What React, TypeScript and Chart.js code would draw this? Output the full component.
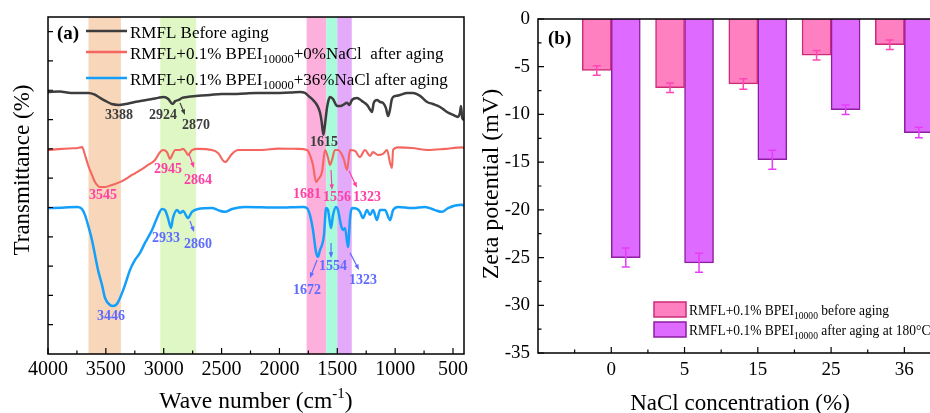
import React, { useEffect, useRef } from 'react';
import { Chart, registerables } from 'chart.js';

Chart.register(...registerables);

const FONT = '"Liberation Serif", "Times New Roman", Times, serif';

// ---------------- Panel (a): FTIR spectra ----------------
const wavenumberTicks = [4000, 3500, 3000, 2500, 2000, 1500, 1000, 500];
const transmittanceTicks = [10, 20, 30, 40, 50, 60, 70, 80, 90, 100, 110];

const spectrumBefore: [number, number][] = [
  [4000, 89.4], [3900, 89.6], [3800, 89.1], [3700, 89.1], [3650, 89.1], [3600, 88.6], [3550, 87.4],
  [3500, 86.3], [3450, 85.3], [3388, 85.0], [3330, 85.3], [3250, 86.0], [3200, 86.3], [3150, 86.7],
  [3100, 87.0], [3050, 87.4], [3000, 87.7], [2960, 87.0], [2924, 85.3], [2900, 86.3], [2870, 86.7],
  [2840, 87.4], [2800, 87.7], [2700, 88.1], [2600, 88.4], [2500, 88.7], [2400, 88.7], [2300, 88.9],
  [2200, 89.1], [2100, 89.1], [2000, 89.1], [1900, 89.2], [1822, 89.4], [1780, 89.1], [1750, 88.1],
  [1710, 86.7], [1670, 84.6], [1649, 82.3], [1635, 79.2], [1620, 74.8], [1608, 77.8], [1598, 81.2],
  [1589, 84.0], [1575, 86.7], [1563, 87.7], [1537, 87.0], [1515, 85.3], [1502, 84.6], [1476, 84.6],
  [1450, 85.0], [1416, 85.7], [1395, 85.0], [1373, 86.7], [1330, 87.4], [1286, 86.3], [1243, 85.0],
  [1215, 83.3], [1200, 82.6], [1185, 85.7], [1157, 86.7], [1130, 86.0], [1105, 85.7], [1080, 84.0],
  [1061, 81.2], [1045, 83.3], [1030, 86.7], [1018, 87.7], [990, 88.1], [958, 88.4], [897, 89.1],
  [845, 89.1], [785, 88.1], [724, 86.0], [673, 85.3], [612, 84.3], [552, 82.6], [500, 81.6],
  [457, 80.9], [440, 82.3], [431, 84.6], [420, 80.5], [405, 79.9],
];

const spectrumSalt0: [number, number][] = [
  [4000, 69.6], [3879, 70.0], [3780, 70.2], [3741, 70.3], [3706, 70.6], [3680, 67.9], [3654, 64.5],
  [3620, 61.1], [3594, 58.7], [3551, 57.0], [3507, 57.0], [3447, 57.7], [3360, 59.0], [3274, 61.1],
  [3188, 63.1], [3136, 64.5], [3075, 66.2], [3032, 68.9], [3006, 69.6], [2972, 68.9], [2945, 66.6],
  [2920, 68.5], [2902, 69.6], [2859, 69.6], [2833, 70.0], [2800, 68.5], [2790, 67.9], [2756, 69.6],
  [2704, 70.0], [2583, 69.6], [2531, 68.6], [2470, 65.5], [2410, 68.3], [2358, 69.6], [2151, 69.6],
  [2012, 70.1], [1840, 70.0], [1762, 69.6], [1736, 67.9], [1710, 64.5], [1684, 58.7], [1667, 59.5],
  [1632, 62.1], [1606, 69.6], [1580, 66.9], [1563, 64.5], [1546, 66.2], [1520, 69.6], [1494, 69.6],
  [1459, 67.9], [1442, 66.2], [1416, 62.8], [1390, 69.6], [1347, 69.3], [1304, 67.2], [1261, 69.6],
  [1217, 67.6], [1191, 68.9], [1148, 67.9], [1105, 68.3], [1070, 69.6], [1044, 65.2], [1027, 63.5],
  [1018, 69.6], [975, 70.5], [854, 70.3], [716, 69.6], [569, 70.0], [422, 70.5], [405, 70.3],
];

const spectrumSalt36: [number, number][] = [
  [4000, 49.8], [3879, 49.9], [3741, 50.2], [3706, 49.5], [3680, 47.4], [3654, 44.0], [3620, 38.9],
  [3594, 33.8], [3568, 28.7], [3533, 23.5], [3507, 19.1], [3464, 16.7], [3438, 16.4], [3404, 17.1],
  [3378, 19.1], [3335, 23.5], [3291, 28.7], [3248, 32.1], [3205, 34.5], [3162, 37.9], [3101, 42.3],
  [3058, 46.4], [3015, 49.5], [2989, 49.1], [2963, 46.4], [2937, 43.0], [2920, 46.4], [2885, 49.1],
  [2859, 48.1], [2833, 48.8], [2790, 46.4], [2756, 48.5], [2704, 49.5], [2583, 49.8], [2531, 49.1],
  [2470, 48.5], [2410, 49.5], [2297, 50.2], [2012, 50.0], [1796, 50.2], [1762, 49.8], [1736, 47.4],
  [1710, 42.3], [1684, 34.8], [1667, 33.1], [1649, 35.5], [1632, 37.2], [1615, 40.6], [1597, 49.8],
  [1580, 49.1], [1554, 43.0], [1537, 47.4], [1511, 50.2], [1494, 49.1], [1468, 44.0], [1451, 42.3],
  [1433, 43.0], [1407, 36.5], [1390, 46.4], [1373, 49.8], [1330, 49.5], [1304, 48.5], [1278, 46.4],
  [1243, 49.1], [1217, 47.4], [1191, 49.1], [1157, 45.7], [1131, 49.1], [1088, 49.1], [1044, 45.7],
  [1018, 49.1], [975, 50.2], [854, 49.8], [742, 50.2], [656, 49.1], [595, 48.5], [543, 49.8],
  [422, 50.9], [405, 50.5],
];

const spectrumColors = ['#3D3D3D', '#F4665F', '#14A0FA'];
const peakLabelColors = ['#3D3D3D', '#FF3FA4', '#5E6BFF'];

const bandRanges: [number, number][] = [[3650, 3370], [3030, 2720], [1765, 1595], [1595, 1500], [1500, 1375]];
const bandColors = ['#F8D6BA', '#DEF7C4', '#FDB0DC', '#AAFADC', '#E4AAFA'];

const peakLabels = [
  { text: '3388', w: 3386, t: 81.9, series: 0 },
  { text: '2924', w: 3006, t: 81.9, series: 0 },
  { text: '2870', w: 2721, t: 78.5, series: 0 },
  { text: '1615', w: 1615, t: 72.7, series: 0 },
  { text: '3545', w: 3525, t: 54.3, series: 1 },
  { text: '2945', w: 2963, t: 63.5, series: 1 },
  { text: '2864', w: 2704, t: 59.7, series: 1 },
  { text: '1681', w: 1762, t: 54.9, series: 1 },
  { text: '1556', w: 1502, t: 53.9, series: 1 },
  { text: '1323', w: 1243, t: 53.9, series: 1 },
  { text: '3446', w: 3456, t: 13.3, series: 2 },
  { text: '2933', w: 2980, t: 39.9, series: 2 },
  { text: '2860', w: 2704, t: 37.9, series: 2 },
  { text: '1672', w: 1762, t: 22.2, series: 2 },
  { text: '1554', w: 1537, t: 30.4, series: 2 },
  { text: '1323', w: 1278, t: 25.3, series: 2 },
];

const peakArrows = [
  { from: [2859, 85.7], to: [2816, 81.6], series: 0 },
  { from: [2781, 68.3], to: [2738, 63.5], series: 1 },
  { from: [1554, 62.8], to: [1546, 56.0], series: 1 },
  { from: [1399, 62.5], to: [1330, 56.7], series: 1 },
  { from: [2773, 45.4], to: [2738, 41.6], series: 2 },
  { from: [1675, 32.1], to: [1736, 25.9], series: 2 },
  { from: [1554, 37.9], to: [1554, 32.8], series: 2 },
  { from: [1390, 34.5], to: [1312, 28.7], series: 2 },
];

type Part = { t: string; s?: 'sub' | 'sup' };

const ftirLegend: Part[][] = [
  [{ t: 'RMFL Before aging' }],
  [{ t: 'RMFL+0.1% BPEI' }, { t: '10000', s: 'sub' }, { t: '+0%NaCl  after aging' }],
  [{ t: 'RMFL+0.1% BPEI' }, { t: '10000', s: 'sub' }, { t: '+36%NaCl after aging' }],
];

// ---------------- Panel (b): zeta potential ----------------
const naclCategories = ['0', '5', '15', '25', '36'];
const zetaBefore = [-5.4, -7.2, -6.8, -3.8, -2.7];
const zetaBeforeErr = [0.5, 0.5, 0.55, 0.5, 0.5];
const zetaAfter = [-25.0, -25.55, -14.75, -9.5, -11.9];
const zetaAfterErr = [1.0, 1.0, 1.0, 0.5, 0.55];
const zetaTicks = [0, -5, -10, -15, -20, -25, -30, -35];

const zetaLegend: Part[][] = [
  [{ t: 'RMFL+0.1% BPEI' }, { t: '10000', s: 'sub' }, { t: ' before aging' }],
  [{ t: 'RMFL+0.1% BPEI' }, { t: '10000', s: 'sub' }, { t: ' after aging at 180°C' }],
];
const barFills = ['#FF80C0', '#DE6AFF'];
const barBorders = ['#CC2B78', '#8C1EA0'];
const errColors = ['#FF46B4', '#E63CFA'];

// ---------------- helpers ----------------
function drawRich(
  ctx: CanvasRenderingContext2D,
  parts: Part[],
  x: number,
  y: number,
  size: number,
  opts: { align?: 'left' | 'center'; weight?: string; color?: string; subSize?: number } = {}
) {
  const weight = opts.weight ?? 'normal';
  const subSize = opts.subSize ?? size * 0.68;
  const fontFor = (p: Part) => `${weight} ${p.s ? subSize : size}px ${FONT}`;
  let total = 0;
  const widths = parts.map((p) => {
    ctx.font = fontFor(p);
    const w = ctx.measureText(p.t).width;
    total += w;
    return w;
  });
  let cx = opts.align === 'center' ? x - total / 2 : x;
  const base = y + size * 0.33;
  ctx.fillStyle = opts.color ?? '#000';
  ctx.textAlign = 'left';
  ctx.textBaseline = 'alphabetic';
  parts.forEach((p, i) => {
    ctx.font = fontFor(p);
    const dy = p.s === 'sub' ? size * 0.28 : p.s === 'sup' ? -size * 0.4 : 0;
    ctx.fillText(p.t, cx, base + dy);
    cx += widths[i];
  });
}

function drawArrow(ctx: CanvasRenderingContext2D, x1: number, y1: number, x2: number, y2: number, color: string) {
  const ang = Math.atan2(y2 - y1, x2 - x1);
  const head = 6;
  ctx.strokeStyle = color;
  ctx.fillStyle = color;
  ctx.lineWidth = 1.2;
  ctx.beginPath();
  ctx.moveTo(x1, y1);
  ctx.lineTo(x2 - Math.cos(ang) * head * 0.8, y2 - Math.sin(ang) * head * 0.8);
  ctx.stroke();
  ctx.beginPath();
  ctx.moveTo(x2, y2);
  ctx.lineTo(x2 - head * Math.cos(ang - 0.38), y2 - head * Math.sin(ang - 0.38));
  ctx.lineTo(x2 - head * Math.cos(ang + 0.38), y2 - head * Math.sin(ang + 0.38));
  ctx.closePath();
  ctx.fill();
}

const ftirDecor = {
  id: 'ftirDecor',
  beforeDatasetsDraw(chart: any) {
    const { ctx, chartArea: a, scales } = chart;
    const x = scales.x;
    ctx.save();
    bandRanges.forEach(([w1, w2], i) => {
      const p1 = x.getPixelForValue(w1);
      const p2 = x.getPixelForValue(w2);
      ctx.fillStyle = bandColors[i];
      ctx.fillRect(Math.min(p1, p2), a.top, Math.abs(p2 - p1), a.bottom - a.top);
    });
    ctx.restore();
  },
  afterDatasetsDraw(chart: any) {
    const { ctx, chartArea: a, scales } = chart;
    const x = scales.x;
    const y = scales.y;
    ctx.save();
    // frame
    ctx.strokeStyle = '#000';
    ctx.lineWidth = 1.5;
    ctx.strokeRect(a.left, a.top, a.right - a.left, a.bottom - a.top);
    // x ticks (inward)
    ctx.lineWidth = 1.2;
    ctx.beginPath();
    wavenumberTicks.forEach((v) => {
      const px = x.getPixelForValue(v);
      ctx.moveTo(px, a.bottom);
      ctx.lineTo(px, a.bottom - 6);
      const m = v - 250;
      if (m >= x.min) {
        const pm = x.getPixelForValue(m);
        ctx.moveTo(pm, a.bottom);
        ctx.lineTo(pm, a.bottom - 3.5);
      }
    });
    transmittanceTicks.forEach((v) => {
      const py = y.getPixelForValue(v);
      ctx.moveTo(a.left, py);
      ctx.lineTo(a.left + 5, py);
    });
    ctx.stroke();

    // legend
    const rowsY = [32, 53, 79];
    ftirLegend.forEach((parts, i) => {
      ctx.strokeStyle = spectrumColors[i];
      ctx.lineWidth = 2.5;
      ctx.beginPath();
      ctx.moveTo(86, rowsY[i] - 1);
      ctx.lineTo(127, rowsY[i] - 1);
      ctx.stroke();
      drawRich(ctx, parts, 130, rowsY[i], 17, { subSize: 12.5 });
    });
    drawRich(ctx, [{ t: '(a)' }], 57, 33, 19, { weight: 'bold' });

    // peak labels
    peakLabels.forEach((l) => {
      drawRich(ctx, [{ t: l.text }], x.getPixelForValue(l.w), y.getPixelForValue(l.t), 14, {
        align: 'center',
        weight: 'bold',
        color: peakLabelColors[l.series],
      });
    });
    peakArrows.forEach((ar) => {
      drawArrow(
        ctx,
        x.getPixelForValue(ar.from[0]),
        y.getPixelForValue(ar.from[1]),
        x.getPixelForValue(ar.to[0]),
        y.getPixelForValue(ar.to[1]),
        peakLabelColors[ar.series]
      );
    });

    // axis titles
    drawRich(ctx, [{ t: 'Wave number (cm' }, { t: '-1', s: 'sup' }, { t: ')' }], (a.left + a.right) / 2, 400, 23.5, {
      align: 'center',
      subSize: 15,
    });
    ctx.save();
    ctx.translate(21, 170);
    ctx.rotate(-Math.PI / 2);
    drawRich(ctx, [{ t: 'Transmittance (%)' }], 0, 0, 23, { align: 'center' });
    ctx.restore();
    ctx.restore();
  },
};

const zetaDecor = {
  id: 'zetaDecor',
  afterDatasetsDraw(chart: any) {
    const { ctx, chartArea: a, scales } = chart;
    const x = scales.x;
    const y = scales.y;
    ctx.save();
    // error bars
    const series = [
      [zetaBefore, zetaBeforeErr],
      [zetaAfter, zetaAfterErr],
    ];
    series.forEach(([vals, errs], d) => {
      const meta = chart.getDatasetMeta(d);
      ctx.strokeStyle = errColors[d];
      ctx.lineWidth = 1.5;
      meta.data.forEach((el: any, i: number) => {
        const cx = el.x;
        const yT = y.getPixelForValue(vals[i] + errs[i]);
        const yB = y.getPixelForValue(vals[i] - errs[i]);
        ctx.beginPath();
        ctx.moveTo(cx, yT);
        ctx.lineTo(cx, yB);
        ctx.moveTo(cx - 4, yT);
        ctx.lineTo(cx + 4, yT);
        ctx.moveTo(cx - 4, yB);
        ctx.lineTo(cx + 4, yB);
        ctx.stroke();
      });
    });
    // frame (left, top, bottom)
    ctx.strokeStyle = '#000';
    ctx.lineWidth = 1.5;
    ctx.beginPath();
    ctx.moveTo(a.right + 2, a.top);
    ctx.lineTo(a.left, a.top);
    ctx.lineTo(a.left, a.bottom);
    ctx.lineTo(a.right + 2, a.bottom);
    ctx.stroke();
    // ticks inward
    ctx.lineWidth = 1.2;
    ctx.beginPath();
    zetaTicks.forEach((v) => {
      const py = y.getPixelForValue(v);
      ctx.moveTo(a.left, py);
      ctx.lineTo(a.left + 6, py);
      const m = v - 2.5;
      if (m >= y.min) {
        const pm = y.getPixelForValue(m);
        ctx.moveTo(a.left, pm);
        ctx.lineTo(a.left + 3.5, pm);
      }
    });
    naclCategories.forEach((_, i) => {
      const px = x.getPixelForValue(i + 1);
      ctx.moveTo(px, a.bottom);
      ctx.lineTo(px, a.bottom - 6);
      const pm = x.getPixelForValue(i + 0.5);
      ctx.moveTo(pm, a.bottom);
      ctx.lineTo(pm, a.bottom - 3.5);
    });
    ctx.stroke();

    // legend (slightly condensed text, as in the original export)
    const boxX = 179;
    const boxY = [302, 322];
    zetaLegend.forEach((parts, i) => {
      ctx.fillStyle = barFills[i];
      ctx.fillRect(boxX, boxY[i], 32, 15);
      ctx.strokeStyle = barBorders[i];
      ctx.lineWidth = 1.5;
      ctx.strokeRect(boxX, boxY[i], 32, 15);
      ctx.save();
      ctx.translate(boxX + 35, boxY[i] + 7.5);
      ctx.scale(0.87, 1);
      drawRich(ctx, parts, 0, 0, 15.5, { subSize: 11 });
      ctx.restore();
    });
    drawRich(ctx, [{ t: '(b)' }], 73, 38, 19, { weight: 'bold' });

    // titles
    drawRich(ctx, [{ t: 'NaCl concentration (%)' }], 265, 402, 23, { align: 'center' });
    ctx.save();
    ctx.translate(15, 184);
    ctx.rotate(-Math.PI / 2);
    drawRich(ctx, [{ t: 'Zeta potential (mV)' }], 0, 0, 24, { align: 'center' });
    ctx.restore();
    ctx.restore();
  },
};

function FtirChart() {
  const ref = useRef<HTMLCanvasElement>(null);
  useEffect(() => {
    const canvas = ref.current;
    if (!canvas) return;
    const toPts = (arr: [number, number][]) => arr.map(([x, y]) => ({ x, y }));
    const spectra = [spectrumBefore, spectrumSalt0, spectrumSalt36];
    const widths = [2.5, 2.1, 2.5];
    const chart = new Chart(canvas, {
      type: 'line',
      data: {
        datasets: spectra.map((s, i) => ({
          data: toPts(s),
          borderColor: spectrumColors[i],
          borderWidth: widths[i],
          pointRadius: 0,
          fill: false,
          cubicInterpolationMode: 'monotone' as const,
        })),
      },
      options: {
        responsive: false,
        animation: false,
        devicePixelRatio: 1,
        layout: { padding: { top: 17, right: 11, left: 0, bottom: 0 } },
        plugins: { legend: { display: false }, tooltip: { enabled: false } },
        scales: {
          x: {
            type: 'linear',
            reverse: true,
            min: 405,
            max: 4000,
            offset: false,
            grid: { display: false, drawTicks: false },
            border: { display: false },
            ticks: {
              font: { family: FONT, size: 20 },
              color: '#000',
              padding: 4,
              maxRotation: 0,
              autoSkip: false,
              callback: (v: any) => String(v),
            },
            afterBuildTicks: (s: any) => {
              s.ticks = wavenumberTicks.map((v) => ({ value: v }));
            },
            afterFit: (s: any) => {
              s.height = 59;
              s.paddingLeft = 0;
              s.paddingRight = 0;
            },
          },
          y: {
            type: 'linear',
            min: 0,
            max: 115,
            grid: { display: false, drawTicks: false },
            border: { display: false },
            ticks: { display: false },
            afterFit: (s: any) => {
              s.width = 48;
              s.paddingTop = 0;
              s.paddingBottom = 0;
            },
          },
        },
      } as any,
      plugins: [ftirDecor],
    });
    return () => chart.destroy();
  }, []);
  return <canvas ref={ref} width={475} height={413} style={{ position: 'absolute', left: 0, top: 0 }} />;
}

function ZetaChart() {
  const ref = useRef<HTMLCanvasElement>(null);
  useEffect(() => {
    const canvas = ref.current;
    if (!canvas) return;
    const chart = new Chart(canvas, {
      type: 'bar',
      data: {
        datasets: [
          {
            label: 'before aging',
            data: naclCategories.map((_, i) => ({ x: i + 1, y: zetaBefore[i] })),
            backgroundColor: barFills[0],
            borderColor: barBorders[0],
            borderWidth: 1.5,
            barThickness: 29,
          },
          {
            label: 'after aging',
            data: naclCategories.map((_, i) => ({ x: i + 1, y: zetaAfter[i] })),
            backgroundColor: barFills[1],
            borderColor: barBorders[1],
            borderWidth: 1.5,
            barThickness: 29,
          },
        ],
      },
      options: {
        responsive: false,
        animation: false,
        devicePixelRatio: 1,
        layout: { padding: { top: 19, right: 0, left: 0, bottom: 0 } },
        plugins: { legend: { display: false }, tooltip: { enabled: false } },
        scales: {
          x: {
            type: 'linear',
            min: 0,
            max: 5.35,
            offset: false,
            grid: { display: false, drawTicks: false },
            border: { display: false },
            ticks: {
              font: { family: FONT, size: 19 },
              color: '#000',
              padding: 6,
              maxRotation: 0,
              autoSkip: false,
              callback: (v: any) => naclCategories[Math.round(v) - 1] ?? '',
            },
            afterBuildTicks: (s: any) => {
              s.ticks = naclCategories.map((_, i) => ({ value: i + 1 }));
            },
            afterFit: (s: any) => {
              s.height = 60;
              s.paddingLeft = 0;
              s.paddingRight = 0;
            },
          },
          y: {
            type: 'linear',
            min: -35,
            max: 0,
            grid: { display: false, drawTicks: false },
            border: { display: false },
            ticks: {
              font: { family: FONT, size: 19 },
              color: '#000',
              padding: 8,
              callback: (v: any) => String(v),
            },
            afterBuildTicks: (s: any) => {
              s.ticks = zetaTicks.map((v) => ({ value: v }));
            },
            afterFit: (s: any) => {
              s.width = 63;
              s.paddingTop = 0;
              s.paddingBottom = 0;
            },
          },
        },
      } as any,
      plugins: [zetaDecor],
    });
    return () => chart.destroy();
  }, []);
  return <canvas ref={ref} width={455} height={413} style={{ position: 'absolute', left: 475, top: 0 }} />;
}

export default function App() {
  return (
    <div
      style={{
        position: 'fixed',
        left: 0,
        top: 0,
        width: 930,
        height: 413,
        background: '#fff',
        overflow: 'hidden',
      }}
    >
      <FtirChart />
      <ZetaChart />
    </div>
  );
}
